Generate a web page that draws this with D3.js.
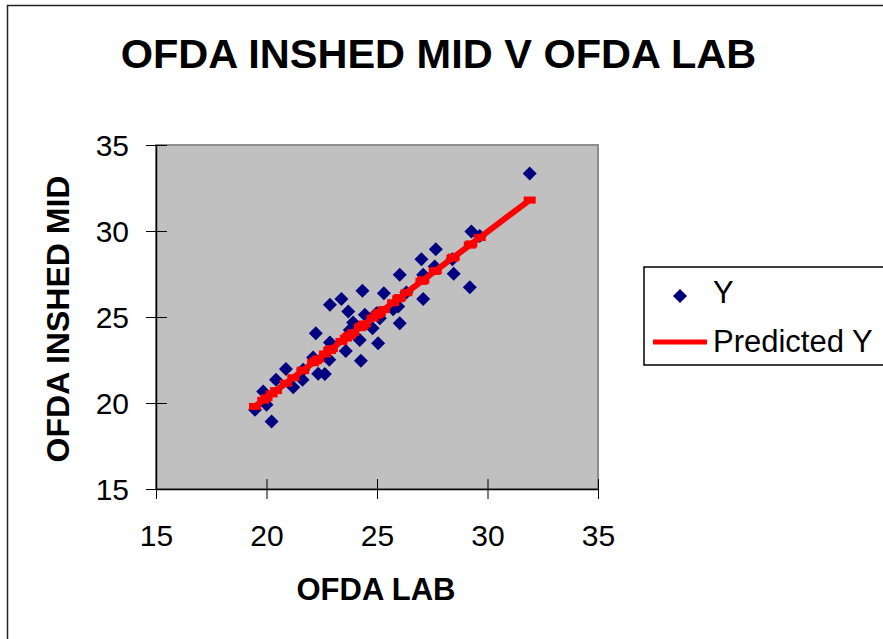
<!DOCTYPE html>
<html>
<head>
<meta charset="utf-8">
<script src="https://cdn.jsdelivr.net/npm/d3@7"></script>
<style>
  html, body { margin: 0; padding: 0; background: #fff; }
  svg { display: block; font-family: "Liberation Sans", Arial, sans-serif; }
</style>
</head>
<body>
<svg id="chart" width="883" height="639"></svg>
<script>
// OFDA LAB (x) and OFDA INSHED MID (y)
const ofdaLab = [19.48, 19.85, 20.00, 20.23, 20.43, 20.88, 21.21, 21.63, 21.66, 22.11,
  22.23, 22.34, 22.64, 22.84, 22.87, 22.87, 22.96, 23.39, 23.59, 23.70,
  23.77, 23.92, 24.22, 24.27, 24.34, 24.45, 24.80, 24.98, 25.05, 25.13,
  25.31, 25.73, 25.96, 26.03, 26.03, 26.33, 27.01, 27.09, 27.09, 27.61,
  27.66, 28.41, 28.47, 29.20, 29.27, 29.65, 31.91];
const ofdaInshedMid = [19.61, 20.67, 19.90, 18.93, 21.35, 21.97, 20.91, 21.35, 21.93, 22.65,
  24.06, 21.70, 21.68, 22.51, 23.52, 25.71, 23.29, 26.04, 23.03, 25.32,
  24.25, 24.68, 23.67, 22.45, 26.52, 25.13, 24.35, 25.22, 23.48, 24.93,
  26.38, 25.45, 25.61, 27.45, 24.64, 26.42, 28.36, 27.45, 26.04, 27.93,
  28.94, 28.36, 27.51, 26.73, 29.97, 29.71, 33.35];
const predictedY = [19.80, 20.16, 20.31, 20.53, 20.72, 21.15, 21.47, 21.88, 21.91, 22.34,
  22.46, 22.56, 22.85, 23.05, 23.07, 23.07, 23.16, 23.58, 23.77, 23.88,
  23.94, 24.09, 24.38, 24.43, 24.49, 24.60, 24.94, 25.11, 25.18, 25.26,
  25.43, 25.83, 26.06, 26.12, 26.12, 26.41, 27.07, 27.15, 27.15, 27.65,
  27.70, 28.42, 28.48, 29.18, 29.25, 29.62, 31.80];
const xTicks = [15, 20, 25, 30, 35];
const yTicks = [15, 20, 25, 30, 35];
const legendLabels = ['Y', 'Predicted Y'];

const svg = d3.select('svg#chart');
const FONT = '"Liberation Sans", Arial, sans-serif';

// outer chart frame (cut off on the right and bottom)
svg.append('rect')
  .attr('x', 7.5).attr('y', 5.5)
  .attr('width', 1000).attr('height', 1000)
  .attr('fill', '#fff')
  .attr('stroke', '#222')
  .attr('stroke-width', 1.5);

const x = d3.scaleLinear().domain([15, 35]).range([156, 598]);
const y = d3.scaleLinear().domain([15, 35]).range([489, 145]);

// plot area
svg.append('rect')
  .attr('x', x(15)).attr('y', y(35))
  .attr('width', x(35) - x(15)).attr('height', y(15) - y(35))
  .attr('fill', '#c0c0c0')
  .attr('stroke', '#8c8c8c')
  .attr('stroke-width', 2);

// axes
const xAxis = svg.append('g')
  .attr('transform', `translate(0,${y(15)})`)
  .call(d3.axisBottom(x).tickValues(xTicks).tickSizeOuter(0).tickSizeInner(10));
const yAxis = svg.append('g')
  .attr('transform', `translate(${x(15)},0)`)
  .call(d3.axisLeft(y).tickValues(yTicks).tickSizeOuter(0).tickSizeInner(10));

[xAxis, yAxis].forEach((g) => {
  g.select('.domain').attr('stroke', '#000').attr('stroke-width', 1.5);
  g.selectAll('.tick line').attr('stroke', '#000').attr('stroke-width', 1);
  g.selectAll('.tick text')
    .attr('fill', '#000')
    .style('font-family', FONT)
    .style('font-size', '30px');
});
xAxis.selectAll('.tick line').attr('y1', -10).attr('y2', 10);
xAxis.selectAll('.tick text').attr('y', 57).attr('dy', null);
yAxis.selectAll('.tick line').attr('x1', -10).attr('x2', 11);
yAxis.selectAll('.tick text').attr('x', -27).attr('dy', '0.36em');

const points = ofdaLab.map((v, i) => ({ x: v, y: ofdaInshedMid[i], p: predictedY[i] }));

// observed points, navy diamonds
const diamond = 'M0,-7L7,0L0,7L-7,0Z';
svg.selectAll('path.pt')
  .data(points)
  .enter()
  .append('path')
  .attr('class', 'pt')
  .attr('d', diamond)
  .attr('transform', (d) => `translate(${x(d.x)},${y(d.y)})`)
  .attr('fill', '#000080');

// predicted line with dash markers, drawn on top
svg.append('path')
  .datum(points)
  .attr('fill', 'none')
  .attr('stroke', '#ff0000')
  .attr('stroke-width', 6)
  .attr('d', d3.line().x((d) => x(d.x)).y((d) => y(d.p)));
svg.selectAll('rect.pmark')
  .data(points)
  .enter()
  .append('rect')
  .attr('class', 'pmark')
  .attr('x', (d) => x(d.x) - 6)
  .attr('y', (d) => y(d.p) - 3.5)
  .attr('width', 12)
  .attr('height', 7)
  .attr('fill', '#ff0000');

// titles
svg.append('text')
  .attr('x', 438.5).attr('y', 68)
  .attr('text-anchor', 'middle')
  .style('font-family', FONT).style('font-weight', 'bold').style('font-size', '41.5px')
  .text('OFDA INSHED MID V OFDA LAB');
svg.append('text')
  .attr('x', 376).attr('y', 600)
  .attr('text-anchor', 'middle')
  .style('font-family', FONT).style('font-weight', 'bold').style('font-size', '31px')
  .text('OFDA LAB');
svg.append('text')
  .attr('transform', 'translate(69,319) rotate(-90)')
  .attr('text-anchor', 'middle')
  .style('font-family', FONT).style('font-weight', 'bold').style('font-size', '32px')
  .text('OFDA INSHED MID');

// legend
const legend = svg.append('g');
legend.append('rect')
  .attr('x', 644).attr('y', 267)
  .attr('width', 300).attr('height', 98)
  .attr('fill', '#fff')
  .attr('stroke', '#000')
  .attr('stroke-width', 1.5);
legend.append('path')
  .attr('d', diamond)
  .attr('transform', 'translate(680,296)')
  .attr('fill', '#000080');
legend.append('line')
  .attr('x1', 653).attr('x2', 707)
  .attr('y1', 342).attr('y2', 342)
  .attr('stroke', '#ff0000')
  .attr('stroke-width', 5);
legend.selectAll('text')
  .data(legendLabels)
  .enter()
  .append('text')
  .attr('x', 713)
  .attr('y', (d, i) => 303 + i * 49)
  .style('font-family', FONT).style('font-size', '31px')
  .text((d) => d);
</script>
</body>
</html>
